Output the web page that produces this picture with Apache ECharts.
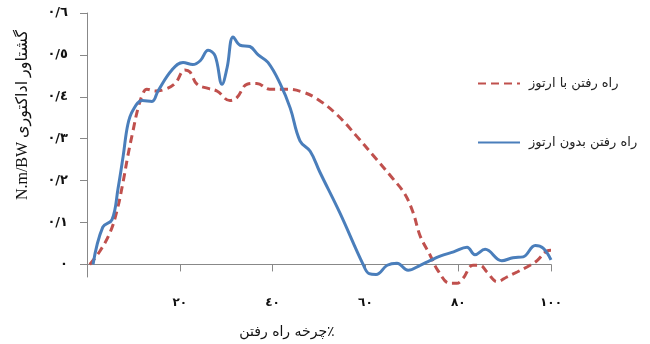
<!DOCTYPE html>
<html><head><meta charset="utf-8">
<script src="https://cdn.jsdelivr.net/npm/echarts@6/dist/echarts.min.js"></script>
<style>html,body{margin:0;padding:0;background:#fff}#c{width:650px;height:344px}</style>
</head><body><div id="c"></div>
<script>
// Data
var seriesNames = ['راه رفتن با ارتوز', 'راه رفتن بدون ارتوز'];
var redX = [0.6,2.8,5.0,6.5,7.8,8.8,9.9,11.0,12.1,12.9,14.7,16.8,19.0,21.1,22.2,23.7,26.1,28.0,30.8,32.3,34.5,36.6,39.4,43.1,46.6,49.6,53.9,58.2,61.6,65.9,68.5,70.3,71.8,73.9,75.6,78.2,79.7,81.0,83.2,84.7,86.2,88.4,90.5,92.7,95.5,97.0,99.1,100];
var redY = [0,0.032,0.077,0.130,0.198,0.259,0.318,0.373,0.409,0.418,0.414,0.418,0.432,0.464,0.459,0.430,0.420,0.414,0.391,0.398,0.430,0.432,0.418,0.418,0.411,0.395,0.357,0.305,0.261,0.205,0.168,0.123,0.068,0.023,-0.014,-0.045,-0.045,-0.034,-0.002,-0.002,-0.018,-0.041,-0.030,-0.018,-0.002,0.009,0.032,0.034];
var blueX = [1.3,3.4,5.4,6.7,7.8,8.8,9.9,11.9,14.0,15.3,18.3,20.7,22.8,24.4,26.1,27.6,29.1,30.2,31.5,33.0,35.1,36.9,39.0,41.6,43.8,45.9,48.1,50.2,54.5,59.5,60.8,62.3,64.7,66.8,69.2,71.8,73.9,76.1,79.0,81.9,83.6,85.8,89.4,91.8,94.0,96.6,98.3,100];
var blueY = [0,0.089,0.107,0.182,0.259,0.334,0.368,0.391,0.389,0.414,0.464,0.482,0.477,0.486,0.511,0.498,0.430,0.470,0.543,0.523,0.520,0.500,0.482,0.432,0.373,0.295,0.270,0.220,0.123,0,-0.022,-0.024,-0.002,0.003,-0.014,-0.002,0.009,0.020,0.030,0.041,0.023,0.036,0.009,0.016,0.018,0.045,0.039,0.011];
var xTickValues = [20,40,60,80,100];
var xTickLabels = ['٢٠','٤٠','٦٠','٨٠','١٠٠'];
var yTickValues = [0,0.1,0.2,0.3,0.4,0.5,0.6];
var yTickLabels = ['٠','٠/١','٠/٢','٠/٣','٠/٤','٠/٥','٠/٦'];
var xAxisName = 'چرخه راه رفتن٪';
var yAxisName = 'N.m/BW گشتاور اداکتوری';

function pairs(xs, ys){ return xs.map(function(x,i){ return [x, ys[i]]; }); }
function lookup(vals, labels, v){
  for (var i=0;i<vals.length;i++){ if (Math.abs(vals[i]-v) < 1e-6) return labels[i]; }
  return '';
}
var FONT = '"Liberation Serif", "DejaVu Sans", serif';
var chart = echarts.init(document.getElementById('c'), null, {renderer:'canvas'});
chart.setOption({
  animation:false,
  backgroundColor:'#fff',
  grid:{left:87, right:99, top:13, bottom:54},
  legend:{
    orient:'vertical', left:472, top:72, itemGap:46,
    itemWidth:42, itemHeight:14,
    itemStyle:{opacity:0},
    textStyle:{color:'#222', fontSize:13, fontFamily:'"DejaVu Sans", sans-serif', padding:[0,0,0,4]},
    data:seriesNames
  },
  xAxis:{
    type:'value', min:0, max:100, interval:20,
    axisLine:{onZero:true, lineStyle:{color:'#888', width:1}},
    axisTick:{show:true, length:7, lineStyle:{color:'#888'}, customValues:[0].concat(xTickValues)},
    axisLabel:{customValues:xTickValues, margin:20, color:'#111', fontSize:12, fontWeight:'bold', fontFamily:'"DejaVu Sans", sans-serif',
      formatter:function(v){ return lookup(xTickValues, xTickLabels, v); }},
    splitLine:{show:false},
    name:xAxisName, nameLocation:'middle', nameGap:48,
    nameTextStyle:{color:'#111', fontSize:14, fontFamily:'"DejaVu Sans", sans-serif', padding:[0,64,0,0]}
  },
  yAxis:{
    type:'value', min:-0.03, max:0.6,
    axisLine:{show:true, lineStyle:{color:'#888', width:1}},
    axisTick:{show:true, length:7, lineStyle:{color:'#888'}, customValues:yTickValues},
    axisLabel:{customValues:yTickValues, margin:19, color:'#111', fontSize:13, fontWeight:'bold', fontFamily:'"DejaVu Sans", sans-serif',
      formatter:function(v){ return lookup(yTickValues, yTickLabels, v); }},
    splitLine:{show:false},
    name:yAxisName, nameLocation:'middle', nameGap:56, nameRotate:90,
    nameTextStyle:{color:'#111', fontSize:16, fontFamily:FONT, padding:[0,0,0,60]}
  },
  series:[
    {name:seriesNames[0], type:'line', data:pairs(redX, redY), smooth:0.4, showSymbol:false, symbol:'none', clip:false,
      lineStyle:{color:'#C0504D', width:3, type:[8,5]}, itemStyle:{color:'#C0504D'}, z:2},
    {name:seriesNames[1], type:'line', data:pairs(blueX, blueY), smooth:0.4, showSymbol:false, symbol:'none', clip:false,
      lineStyle:{color:'#4A7EBB', width:3, type:'solid'}, itemStyle:{color:'#4A7EBB'}, z:3}
  ]
});
</script></body></html>
